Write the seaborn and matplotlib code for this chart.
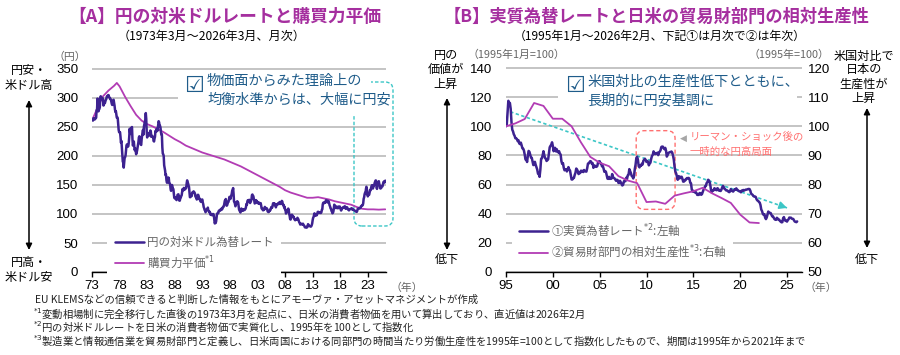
import numpy as np
import matplotlib
matplotlib.use("Agg")
import matplotlib.pyplot as plt
import seaborn as sns
from matplotlib.patches import FancyBboxPatch, Rectangle, FancyArrowPatch
from matplotlib.lines import Line2D

# ---------------- data ----------------
# [A] nominal USD/JPY, monthly from 1973-03 to 2026-03
usdjpy_start = (1973, 3)
usdjpy = [
    261, 265, 265, 265, 263, 265, 265, 266, 279, 280,
    299, 287, 277, 280, 281, 284, 298, 303, 298, 299, 300, 300,
    297, 287, 290, 292, 291, 294, 297, 298, 302, 303, 303, 305,
    305, 302, 301, 299, 299, 297, 294, 290, 288, 293, 296, 297,
    292, 287, 280, 276, 277, 271, 266, 267, 265, 255, 245, 241,
    241, 241, 233, 223, 226, 214, 200, 190, 190, 180, 188, 197,
    198, 201, 209, 218, 220, 219, 216, 217, 223, 233, 247, 240,
    238, 245, 249, 250, 229, 218, 221, 225, 216, 210, 213, 210,
    203, 206, 209, 214, 220, 224, 232, 234, 231, 231, 220, 219,
    229, 235, 241, 245, 237, 251, 255, 259, 263, 274, 264, 242,
    232, 236, 238, 238, 235, 240, 240, 244, 242, 233, 235, 234,
    233, 233, 226, 225, 230, 233, 243, 242, 245, 247, 243, 247,
    254, 260, 258, 252, 252, 249, 241, 237, 237, 215, 204, 203,
    200, 184, 179, 175, 167, 168, 158, 154, 154, 156, 163, 162,
    154, 153, 151, 143, 140, 144, 150, 147, 143, 143, 135, 128,
    127, 129, 128, 125, 124, 127, 133, 133, 134, 129, 123, 123,
    127, 128, 131, 132, 138, 143, 141, 141, 145, 142, 143, 143,
    145, 145, 153, 158, 154, 153, 149, 147, 138, 129, 129, 133,
    133, 131, 137, 137, 138, 139, 138, 137, 135, 130, 130, 128,
    125, 128, 133, 133, 131, 127, 125, 126, 122, 121, 124, 124,
    125, 120, 117, 112, 110, 107, 107, 103, 105, 107, 108, 109,
    111, 106, 105, 103, 104, 102, 98.5, 100, 99, 98, 98, 100,
    99.8, 98.2, 90.8, 83.7, 85.2, 84.5, 87.2, 94.6, 100.5, 100.7, 101.9, 101.9,
    105.8, 105.7, 105.9, 107.4, 106.5, 108.9, 109.2, 107.8, 109.8, 112.3, 112.3, 113.9,
    118.0, 123.0, 122.5, 125.8, 119.0, 114.3, 115.2, 117.9, 120.9, 121.1, 125.4, 129.5,
    129.5, 125.8, 129.1, 132.0, 134.9, 140.3, 140.7, 144.7, 134.5, 121.3, 120.6, 117.4,
    113.3, 116.7, 119.5, 119.8, 122.0, 120.7, 119.6, 113.3, 107.5, 106.0, 104.8, 102.6,
    105.2, 109.4, 106.3, 105.6, 108.3, 106.1, 107.9, 108.1, 106.8, 108.4, 108.9, 112.2,
    117.1, 116.1, 121.2, 123.8, 122.2, 122.2, 124.5, 121.6, 118.9, 121.4, 122.3, 125.6,
    132.7, 133.6, 131.1, 130.8, 126.4, 123.3, 118.1, 119.0, 120.5, 123.9, 121.6, 121.9,
    118.8, 119.3, 118.7, 119.9, 117.4, 118.3, 118.7, 118.7, 114.8, 109.5, 109.2, 107.7,
    106.4, 106.6, 108.5, 107.7, 112.2, 109.4, 109.4, 110.2, 110.0, 108.8, 104.7, 103.8,
    103.3, 104.9, 104.9, 107.2, 106.6, 108.8, 111.9, 110.6, 111.2, 114.8, 118.5, 118.5,
    115.5, 117.9, 117.3, 117.1, 111.5, 114.6, 115.7, 115.9, 117.2, 118.6, 117.3, 117.3,
    120.6, 120.5, 117.3, 118.8, 120.8, 122.6, 121.6, 116.7, 115.0, 115.8, 111.2, 112.4,
    107.6, 107.1, 100.8, 102.6, 104.1, 106.9, 106.8, 109.4, 106.6, 100.1, 96.8, 91.3,
    90.4, 92.6, 97.9, 98.8, 96.7, 96.6, 94.5, 94.9, 91.4, 90.3, 89.2, 89.9,
    91.1, 90.1, 90.7, 93.5, 91.8, 90.9, 87.6, 85.4, 84.3, 81.8, 82.5, 83.3,
    82.6, 82.6, 81.8, 83.3, 81.2, 80.5, 79.4, 77.2, 76.8, 76.7, 77.5, 77.8,
    76.9, 78.5, 82.5, 81.3, 79.7, 79.3, 78.9, 78.7, 78.2, 78.9, 80.8, 83.6,
    89.2, 93.2, 94.8, 97.8, 101.1, 97.3, 99.7, 97.8, 99.3, 97.8, 100.0, 103.5,
    103.9, 102.1, 102.3, 102.5, 101.8, 102.1, 101.7, 102.9, 107.1, 108.0, 116.4, 119.4,
    118.3, 118.8, 120.4, 119.5, 120.8, 123.7, 123.3, 123.2, 120.1, 120.1, 122.6, 121.6,
    118.2, 114.7, 112.9, 109.6, 109.1, 105.4, 104.1, 101.3, 101.9, 103.9, 108.6, 116.1,
    115.0, 113.1, 113.0, 110.1, 112.2, 110.9, 112.4, 109.8, 110.8, 112.9, 112.8, 112.9,
    110.9, 107.9, 106.0, 107.6, 109.7, 110.1, 111.4, 111.0, 111.9, 112.8, 113.4, 112.3,
    108.9, 110.4, 111.2, 111.6, 109.8, 108.1, 108.2, 106.2, 107.5, 108.1, 108.9, 109.1,
    109.3, 110.0, 107.7, 107.8, 107.2, 107.6, 106.8, 106.0, 105.6, 105.2, 104.4, 103.8,
    103.7, 105.4, 108.7, 109.1, 109.1, 110.1, 110.2, 109.8, 110.2, 113.1, 114.0, 113.8,
    114.8, 115.2, 118.5, 126.2, 128.8, 133.9, 136.6, 135.2, 143.1, 147.0, 142.4, 134.8,
    130.4, 132.7, 133.1, 133.3, 137.0, 141.2, 140.9, 144.8, 147.8, 149.6, 149.7, 143.9,
    146.2, 149.5, 149.7, 153.7, 155.9, 157.9, 157.5, 146.3, 143.3, 149.7, 153.7, 153.7,
    156.5, 151.9, 149.1, 144.2, 144.9, 144.5, 146.8, 147.5, 147.7, 151.5, 155.0, 155.8,
    156.5, 154.5, 157.5,
]

# [A] purchasing power parity (yen per dollar)
ppp_years = [1973.17, 1974, 1975, 1976, 1977, 1977.5, 1978, 1979, 1980, 1981, 1982,
             1983, 1984, 1985, 1986, 1987, 1988, 1989, 1990, 1991, 1992, 1993,
             1994, 1995, 1996, 1997, 1998, 1999, 2000, 2001, 2002, 2003, 2004,
             2005, 2006, 2007, 2008, 2009, 2010, 2011, 2012, 2013, 2014, 2015,
             2016, 2017, 2018, 2019, 2020, 2021, 2022, 2023, 2024, 2025, 2026, 2026.17]
ppp_values = [265, 283, 303, 313, 321, 326, 320, 302, 286, 271, 261,
              255, 251, 246, 241, 235, 229, 224, 218, 214, 210, 206,
              203, 200, 197, 194, 190, 186, 182, 177, 172, 167, 162,
              157, 152, 147, 141, 137, 134, 131, 128, 128, 129, 127,
              125, 122, 120, 118, 116, 112, 109, 108, 108, 107.5, 108, 108]

# [B] real exchange rate index (1995/1 = 100), monthly from 1995-01 to 2026-02
real_start = (1995, 1)
real_rate = [
    100.0, 101.4, 109.5, 117.5, 116.2, 116.0, 112.0, 103.0, 97.7, 96.5, 94.5, 93.5,
    91.8, 91.7, 91.3, 89.8, 90.4, 88.2, 87.8, 88.8, 87.0, 84.9, 84.7, 83.3,
    80.5, 77.2, 77.6, 75.5, 79.8, 83.1, 82.5, 80.6, 78.6, 78.4, 75.8, 73.4,
    73.5, 75.6, 73.6, 71.9, 70.3, 67.5, 67.2, 65.3, 70.2, 77.7, 78.1, 80.2,
    82.9, 80.3, 78.2, 77.8, 76.2, 76.8, 77.3, 81.5, 85.6, 86.6, 87.4, 89.0,
    86.5, 82.9, 85.0, 85.2, 82.8, 84.3, 82.6, 82.1, 82.9, 81.3, 80.6, 76.0,
    74.2, 74.7, 71.5, 69.8, 70.5, 70.5, 69.0, 70.5, 72.0, 70.3, 69.7, 66.5,
    63.5, 63.5, 64.5, 64.5, 66.6, 68.1, 71.0, 70.3, 69.2, 67.2, 68.3, 67.9,
    69.5, 69.2, 69.4, 68.6, 70.0, 69.3, 69.0, 68.9, 71.2, 74.4, 74.5, 75.4,
    76.1, 75.8, 74.3, 74.7, 71.5, 73.1, 72.9, 72.2, 72.2, 72.8, 75.5, 75.9,
    76.0, 74.5, 74.4, 72.5, 72.7, 71.0, 68.8, 69.3, 68.8, 66.4, 64.1, 63.9,
    65.3, 63.9, 64.1, 64.0, 67.2, 65.3, 64.6, 64.3, 63.5, 62.6, 63.3, 63.1,
    61.2, 61.1, 62.6, 61.6, 60.4, 59.4, 59.8, 62.1, 62.9, 62.3, 64.7, 63.8,
    66.4, 66.7, 70.6, 69.2, 67.9, 65.9, 65.6, 64.2, 65.9, 70.7, 73.7, 78.3,
    79.1, 77.0, 72.6, 71.8, 73.1, 72.9, 74.3, 73.8, 76.4, 77.0, 77.7, 76.8,
    75.5, 76.2, 75.6, 73.2, 74.4, 75.0, 77.7, 79.6, 80.4, 82.8, 81.9, 80.9,
    81.5, 81.2, 81.9, 80.2, 82.1, 82.6, 83.6, 85.8, 86.1, 86.0, 84.9, 84.3,
    85.2, 83.3, 79.2, 80.2, 81.7, 82.0, 82.3, 82.3, 82.7, 81.9, 79.8, 77.0,
    72.0, 68.9, 67.6, 65.5, 63.3, 65.8, 64.2, 65.4, 64.5, 65.4, 64.0, 62.0,
    62.1, 63.2, 63.0, 64.0, 64.5, 64.3, 64.6, 63.9, 61.3, 60.9, 56.6, 55.2,
    55.7, 55.4, 54.6, 54.9, 54.2, 52.9, 53.0, 52.9, 54.2, 54.1, 53.0, 53.4,
    54.8, 56.4, 57.2, 58.8, 59.0, 61.0, 61.7, 63.3, 62.8, 61.5, 58.7, 54.8,
    55.2, 56.1, 56.1, 57.5, 56.3, 57.0, 56.1, 57.5, 56.9, 55.8, 55.8, 55.6,
    56.6, 58.1, 59.1, 58.2, 57.0, 56.7, 56.0, 56.1, 55.7, 55.1, 54.8, 55.3,
    56.9, 56.1, 55.5, 55.2, 55.9, 56.7, 56.5, 57.4, 56.6, 56.2, 55.6, 55.4,
    55.2, 54.7, 55.9, 55.9, 56.3, 55.9, 56.2, 56.5, 56.5, 56.7, 56.9, 57.0,
    56.9, 55.8, 53.8, 53.3, 52.9, 52.1, 51.8, 51.8, 51.5, 49.9, 49.1, 48.9,
    48.1, 47.7, 46.0, 42.9, 41.8, 40.0, 39.2, 39.6, 37.3, 36.3, 37.4, 39.6,
    41.5, 40.8, 40.6, 40.5, 39.3, 38.2, 38.2, 37.2, 36.3, 35.9, 35.8, 37.2,
    36.7, 35.9, 35.9, 35.0, 34.5, 34.1, 34.2, 36.8, 37.7, 36.1, 35.1, 35.2,
    34.6, 35.6, 36.2, 37.4, 37.2, 37.3, 36.6, 36.5, 36.4, 35.4, 34.6, 34.4,
    34.2, 34.7,
]

# [B] relative productivity of tradable sector (1995 = 100), annual
prod_years = list(range(1995, 2023))
prod_values = [100, 101, 102.5, 108, 107, 102.6, 102.6, 100, 94.5, 89.5, 87.5, 86.3,
               82.9, 81.4, 80.5, 74, 74.2, 73.4, 76.2, 77, 77.7, 78.9, 77, 75.4,
               73.7, 69.7, 67, 66.8]

# [B] trend arrow and Lehman highlight (year, left-axis value)
trend_years = [1995.45, 2025.0]
trend_values = [110, 44]
lehman_years = [2008.9, 2013.05]
lehman_values = [43, 97]

xticks_A = list(range(1973, 2024, 5))
xticks_B = list(range(1995, 2026, 5))
yticks_A = list(range(0, 351, 50))
yticks_B = list(range(0, 141, 20))
yticks_B2 = list(range(50, 121, 10))

# ---------------- style ----------------
sns.set_theme(style="white")
plt.rcParams["font.family"] = ["Noto Sans CJK JP", "DejaVu Sans"]
plt.rcParams["axes.unicode_minus"] = False

C_RATE = "#3D2290"
C_PPP = "#B23CB4"
C_TITLE = "#A52F9F"
C_GRID = "#BFBFBF"
C_BOX = "#1F5C8A"
C_TEAL = "#3CC6C6"
C_RED = "#FF7070"
C_GRAY = "#666666"

W, H = 900, 355
fig = plt.figure(figsize=(W / 100, H / 100), dpi=100)


def fx(x):
    return x / W


def fy(y):
    return 1 - y / H


def ftext(x, y, s, **kw):
    kw.setdefault("ha", "center")
    kw.setdefault("va", "center")
    return fig.text(fx(x), fy(y), s, **kw)


# axes (pixel layout)
axA = fig.add_axes([fx(92), fy(272), 294 / W, (203 * 352 / 350) / H])
axB = fig.add_axes([fx(506), fy(272), 296 / W, (1.457 * 141) / H])
axB2 = axB.twinx()

# ---------------- panel A ----------------
xA = usdjpy_start[0] + (usdjpy_start[1] - 1) / 12 + np.arange(len(usdjpy)) / 12
sns.lineplot(x=xA, y=usdjpy, ax=axA, color=C_RATE, linewidth=1.8, estimator=None, zorder=3)
sns.lineplot(x=ppp_years, y=ppp_values, ax=axA, color=C_PPP, linewidth=1.3, estimator=None, zorder=2.5)
axA.set_xlim(1973.0, 2026.3)
axA.set_ylim(0, 352)

# ---------------- panel B ----------------
xB = real_start[0] + (real_start[1] - 1) / 12 + np.arange(len(real_rate)) / 12
sns.lineplot(x=xB, y=real_rate, ax=axB, color=C_RATE, linewidth=1.8, estimator=None, zorder=3)
sns.lineplot(x=prod_years, y=prod_values, ax=axB2, color=C_PPP, linewidth=1.3, estimator=None, zorder=2)
axB.set_xlim(1995.0, 2026.6)
axB.set_ylim(0, 141)
axB2.set_ylim(50, 120.5)

for ax, xt in ((axA, xticks_A), (axB, xticks_B)):
    ax.set_xticks(xt)
    ax.set_xticklabels([f"{y % 100:02d}" for y in xt])
    ax.set_xlabel("")
    ax.set_ylabel("")
    for s in ("top", "left", "right"):
        ax.spines[s].set_visible(False)
    ax.spines["bottom"].set_color("black")
    ax.spines["bottom"].set_linewidth(1.0)
    ax.tick_params(axis="x", bottom=True, direction="out", length=3.5, width=1,
                   color="black", labelsize=9.5, pad=2.5, labelcolor="black")
    ax.tick_params(axis="y", left=False, length=0, labelsize=9.5, pad=10, labelcolor="black")
    ax.yaxis.grid(True, color=C_GRID, linewidth=1.3)
    ax.xaxis.grid(False)
    ax.set_axisbelow(True)

axA.set_yticks(yticks_A)
axB.set_yticks(yticks_B)
axB2.set_yticks(yticks_B2)
axB2.set_ylabel("")
for s in ("top", "left", "right", "bottom"):
    axB2.spines[s].set_visible(False)
axB2.tick_params(axis="y", right=False, length=0, labelsize=9.5, pad=4, labelcolor="black")
axB2.grid(False)

for ax in (axA, axB, axB2):
    for lbl in ax.get_xticklabels() + ax.get_yticklabels():
        lbl.set_fontfamily(["Liberation Sans", "DejaVu Sans"])

# ---------------- legends ----------------
legA = axA.legend(
    [Line2D([], [], color=C_RATE, lw=1.8), Line2D([], [], color=C_PPP, lw=1.3)],
    ["円の対米ドル為替レート", "購買力平価$^{*1}$"],
    loc="center left", bbox_to_anchor=(0.051, 0.092), frameon=True, fontsize=8.3,
    handlelength=2.5, handletextpad=0.25, labelspacing=0.45, borderpad=0.7,
    borderaxespad=0, labelcolor=C_GRAY)
legA.get_frame().set_facecolor("white")
legA.get_frame().set_edgecolor("none")
legA.get_frame().set_alpha(1)
legA.set_zorder(5)

legB = axB2.legend(
    [Line2D([], [], color=C_RATE, lw=1.8), Line2D([], [], color=C_PPP, lw=1.3)],
    ["①実質為替レート$^{*2}$:左軸", "②貿易財部門の相対生産性$^{*3}$:右軸"],
    loc="center left", bbox_to_anchor=(0.02, 0.147), frameon=True, fontsize=8.3,
    handlelength=2.5, handletextpad=0.25, labelspacing=0.45, borderpad=0.6,
    borderaxespad=0, labelcolor=C_GRAY)
legB.get_frame().set_facecolor("white")
legB.get_frame().set_edgecolor("none")
legB.get_frame().set_alpha(1)
legB.set_zorder(5)

# ---------------- decorations panel A ----------------
teal_box = FancyBboxPatch((fx(354), fy(226)), (393 - 354) / W, (226 - 82) / H,
                          boxstyle=f"round,pad=0,rounding_size={8 / W}",
                          mutation_aspect=W / H, transform=fig.transFigure,
                          facecolor="none", edgecolor=C_TEAL, linewidth=1.0,
                          linestyle=(0, (2.5, 1.5)), zorder=1.6, clip_on=False)
axA.add_artist(teal_box)
for (x0, y0, x1, y1) in ((178, 70, 371, 90), (178, 90, 391, 116)):
    r = Rectangle((fx(x0), fy(y1)), (x1 - x0) / W, (y1 - y0) / H, transform=fig.transFigure,
                  facecolor="white", edgecolor="none", zorder=1.7, clip_on=False)
    axA.add_artist(r)

ftext(194, 86, "☑", fontsize=16, color=C_BOX, family=["DejaVu Sans"])
ftext(207, 81, "物価面からみた理論上の", fontsize=10.2, color=C_BOX, ha="left")
ftext(207, 99, "均衡水準からは、大幅に円安", fontsize=10.2, color=C_BOX, ha="left")

# ---------------- decorations panel B ----------------
rB = Rectangle((fx(558), fy(110)), (797 - 558) / W, (110 - 70) / H, transform=fig.transFigure,
               facecolor="white", edgecolor="none", zorder=1.7, clip_on=False)
axB.add_artist(rB)
ftext(575, 86, "☑", fontsize=16, color=C_BOX, family=["DejaVu Sans"])
ftext(587, 82, "米国対比の生産性低下とともに、", fontsize=10.2, color=C_BOX, ha="left")
ftext(587, 100, "長期的に円安基調に", fontsize=10.2, color=C_BOX, ha="left")

px_x = 296 / (2026.6 - 1995.0)
px_y = 1.457
red_box = FancyBboxPatch((lehman_years[0], lehman_values[0]),
                         lehman_years[1] - lehman_years[0], lehman_values[1] - lehman_values[0],
                         boxstyle=f"round,pad=0,rounding_size={8 / px_x}",
                         mutation_aspect=px_x / px_y, facecolor="none", edgecolor=C_RED,
                         linewidth=1.0, linestyle=(0, (3, 2)), zorder=2.8)
axB.add_patch(red_box)

axB.plot(trend_years, trend_values, color=C_TEAL, lw=1.2, ls=(0, (2, 1.5)), zorder=2.6)
axB.annotate("", xy=(trend_years[1], trend_values[1]),
             xytext=(trend_years[1] - 0.6, trend_values[1] + 0.6 * (trend_values[0] - trend_values[1]) / (trend_years[1] - trend_years[0])),
             arrowprops=dict(arrowstyle="-|>", color=C_TEAL, lw=1.2, mutation_scale=11,
                             shrinkA=0, shrinkB=0), zorder=2.6)

ftext(683, 138, "◀", fontsize=6.5, color="#A6A6A6", family=["DejaVu Sans"])
ftext(690, 137, "リーマン・ショック後の", fontsize=7.5, color=C_RED, ha="left")
ftext(690, 152, "一時的な円高局面", fontsize=7.5, color=C_RED, ha="left")

# ---------------- titles ----------------
ftext(225, 17, "【A】円の対米ドルレートと購買力平価", fontsize=12.8, color=C_TITLE, fontweight="bold")
ftext(212, 36, "（1973年3月～2026年3月、月次）", fontsize=8.7, color="black")
ftext(657, 17, "【B】実質為替レートと日米の貿易財部門の相対生産性", fontsize=12.4, color=C_TITLE, fontweight="bold")
ftext(660, 36, "（1995年1月～2026年2月、下記①は月次で②は年次）", fontsize=8.6, color="black")

# unit labels
ftext(70, 57, "（円）", fontsize=7.8, color=C_GRAY)
ftext(407, 288, "（年）", fontsize=7.8, color=C_GRAY)
ftext(516, 55, "（1995年1月=100）", fontsize=7.8, color=C_GRAY)
ftext(789, 55, "（1995年=100）", fontsize=7.8, color=C_GRAY)
ftext(821, 288, "（年）", fontsize=7.8, color=C_GRAY)

# outer direction labels
ftext(29, 78, "円安・\n米ドル高", fontsize=8.7, color="black", linespacing=1.15)
ftext(29, 270, "円高・\n米ドル安", fontsize=8.7, color="black", linespacing=1.15)
ftext(446, 70, "円の\n価値が\n上昇", fontsize=8.7, color="black", linespacing=1.1)
ftext(447, 260, "低下", fontsize=8.7, color="black")
ftext(864, 77, "米国対比で\n日本の\n生産性が\n上昇", fontsize=8.7, color="black", linespacing=1.1)
ftext(867, 260, "低下", fontsize=8.7, color="black")

for (x, y0, y1) in ((29, 100, 250), (447, 98, 250), (867, 108, 248)):
    arr = FancyArrowPatch((fx(x), fy(y0)), (fx(x), fy(y1)), arrowstyle="<|-|>",
                          mutation_scale=9, lw=1.1, color="black",
                          transform=fig.transFigure, shrinkA=0, shrinkB=0)
    fig.add_artist(arr)

# ---------------- footnotes ----------------
notes = [
    (35, 300, "EU KLEMSなどの信頼できると判断した情報をもとにアモーヴァ・アセットマネジメントが作成"),
    (33, 314, "$^{*1}$変動相場制に完全移行した直後の1973年3月を起点に、日米の消費者物価を用いて算出しており、直近値は2026年2月"),
    (33, 327, "$^{*2}$円の対米ドルレートを日米の消費者物価で実質化し、1995年を100として指数化"),
    (33, 341, "$^{*3}$製造業と情報通信業を貿易財部門と定義し、日米両国における同部門の時間当たり労働生産性を1995年=100として指数化したもので、期間は1995年から2021年まで"),
]
for x, y, s in notes:
    ftext(x, y, s, fontsize=7.45, color="#222222", ha="left")

fig.savefig("out.png", dpi=100)
